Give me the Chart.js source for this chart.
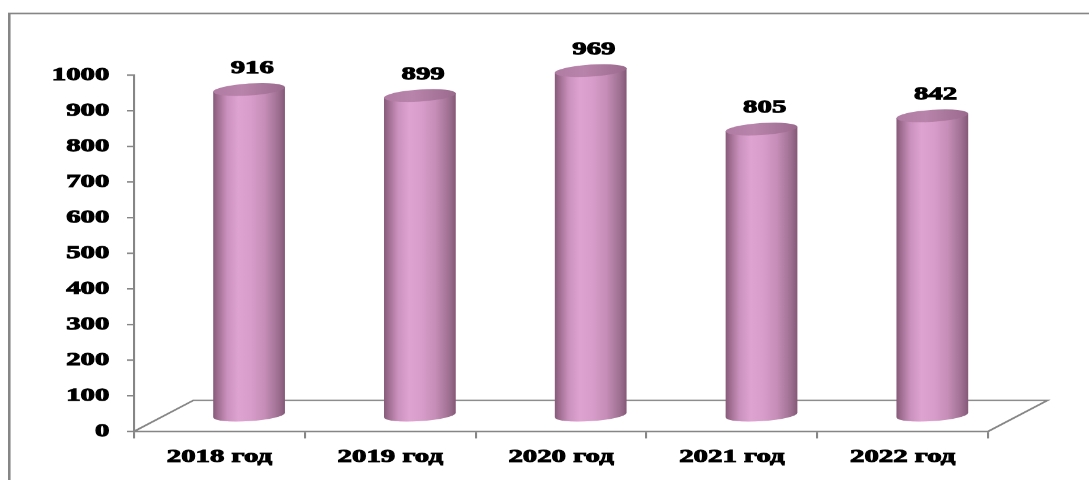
<!DOCTYPE html>
<html>
<head>
<meta charset="utf-8">
<script src="https://cdn.jsdelivr.net/npm/chart.js@4.4.1/dist/chart.umd.min.js"></script>
<style>
  html, body { margin: 0; padding: 0; background: #fff; overflow: hidden; }
</style>
</head>
<body>
<!-- drawn on a narrow logical canvas, then widened by CSS so the text is stretched -->
<canvas id="chart" width="680" height="480" style="width:1089px;height:480px"></canvas>
<script>
const categories = ['2018 год', '2019 год', '2020 год', '2021 год', '2022 год'];
const values = [916, 899, 969, 805, 842];
const yTicks = [0, 100, 200, 300, 400, 500, 600, 700, 800, 900, 1000];

const STRETCH = 1089 / 680 + 1e-9;
const DX = 37, DY = 31;        // floor depth (logical px)
const RY = 6;                  // ellipse half height
const SLANT = 0.1;             // slight tilt of the cylinder caps
const GRAY = '#868686';
const FONT = { family: '"Liberation Serif", "Times New Roman", serif', size: 18, weight: 'bold' };
const STROKE = 0.9;

function cylinder(ctx, cx, top, bottom, rx) {
  ctx.save();
  ctx.translate(cx, 0);
  ctx.transform(1, -SLANT, 0, 1, 0, 0);

  const body = ctx.createLinearGradient(-rx, 0, rx, 0);
  body.addColorStop(0, '#875a7a');
  body.addColorStop(0.08, '#a57296');
  body.addColorStop(0.2, '#cc92bf');
  body.addColorStop(0.35, '#dea3d0');
  body.addColorStop(0.52, '#d99dcb');
  body.addColorStop(0.72, '#c58db7');
  body.addColorStop(0.9, '#a07193');
  body.addColorStop(1, '#855878');
  ctx.fillStyle = body;
  ctx.beginPath();
  ctx.moveTo(-rx, top);
  ctx.lineTo(-rx, bottom);
  ctx.ellipse(0, bottom, rx, RY, 0, Math.PI, 0, true);
  ctx.lineTo(rx, top);
  ctx.closePath();
  ctx.fill();

  const cap = ctx.createLinearGradient(-rx, 0, rx, 0);
  cap.addColorStop(0, '#b07ca3');
  cap.addColorStop(0.4, '#b984ab');
  cap.addColorStop(1, '#9a6a8d');
  ctx.fillStyle = cap;
  ctx.beginPath();
  ctx.ellipse(0, top, rx, RY, 0, 0, Math.PI * 2);
  ctx.fill();
  ctx.restore();
}

const frame3d = {
  id: 'frame3d',
  beforeDraw(chart) {
    const ctx = chart.ctx;
    ctx.save();
    ctx.fillStyle = '#fff';
    ctx.fillRect(0, 0, chart.width, chart.height);
    ctx.strokeStyle = GRAY;
    ctx.lineWidth = 1.6;
    ctx.strokeRect(5.8, 13.5, chart.width + 20, chart.height + 20);
    ctx.restore();
  },
  beforeDatasetsDraw(chart) {
    const { ctx, chartArea: { left, right, bottom } } = chart;
    ctx.save();
    ctx.strokeStyle = GRAY;
    ctx.lineWidth = 1.5;
    ctx.beginPath();
    ctx.moveTo(left, bottom);
    ctx.lineTo(left + DX, bottom - DY);
    ctx.lineTo(right + DX, bottom - DY);
    ctx.lineTo(right, bottom);
    ctx.stroke();
    ctx.restore();
  },
  afterDatasetsDraw(chart) {
    const ctx = chart.ctx;
    const meta = chart.getDatasetMeta(0);
    meta.data.forEach((bar, i) => {
      const cx = bar.x + DX / 2;
      const top = bar.y - DY / 2;
      const base = bar.base - DY / 2;
      cylinder(ctx, cx, top, base, bar.width / 2);

      // value above each cylinder
      ctx.save();
      ctx.fillStyle = '#000';
      ctx.strokeStyle = '#000';
      ctx.lineWidth = STROKE;
      ctx.font = `bold ${FONT.size}px ${FONT.family}`;
      ctx.textAlign = 'center';
      ctx.textBaseline = 'middle';
      const txt = String(values[i]);
      ctx.strokeText(txt, cx + 2, top - 21);
      ctx.fillText(txt, cx + 2, top - 21);
      ctx.restore();
    });
  }
};

new Chart(document.getElementById('chart'), {
  type: 'bar',
  data: {
    labels: categories,
    datasets: [{
      data: values,
      backgroundColor: 'rgba(0,0,0,0)',
      borderWidth: 0,
      categoryPercentage: 1,
      barPercentage: 0.42
    }]
  },
  options: {
    responsive: false,
    animation: false,
    events: [],
    devicePixelRatio: STRETCH,
    layout: { padding: { top: 75, right: 63, bottom: 0, left: 0 } },
    plugins: { legend: { display: false }, tooltip: { enabled: false } },
    scales: {
      x: {
        afterFit: s => { s.height = 49; },
        grid: { offset: true, drawOnChartArea: false, color: GRAY, lineWidth: 1.3, tickLength: 7 },
        border: { display: true, color: GRAY, width: 1.5 },
        ticks: { color: '#000', font: FONT, padding: 8, maxRotation: 0, textStrokeColor: '#000', textStrokeWidth: STROKE }
      },
      y: {
        min: 0,
        max: 1000,
        afterFit: s => { s.width = 83.7; },
        afterBuildTicks: s => { s.ticks = yTicks.map(v => ({ value: v })); },
        grid: { drawOnChartArea: false, color: GRAY, lineWidth: 1.5, tickLength: 4.4 },
        border: { display: true, color: GRAY, width: 1.3 },
        ticks: {
          color: '#000', font: FONT, padding: 11,
          textStrokeColor: '#000', textStrokeWidth: STROKE,
          callback: v => String(v)
        }
      }
    }
  },
  plugins: [frame3d]
});
</script>
</body>
</html>
